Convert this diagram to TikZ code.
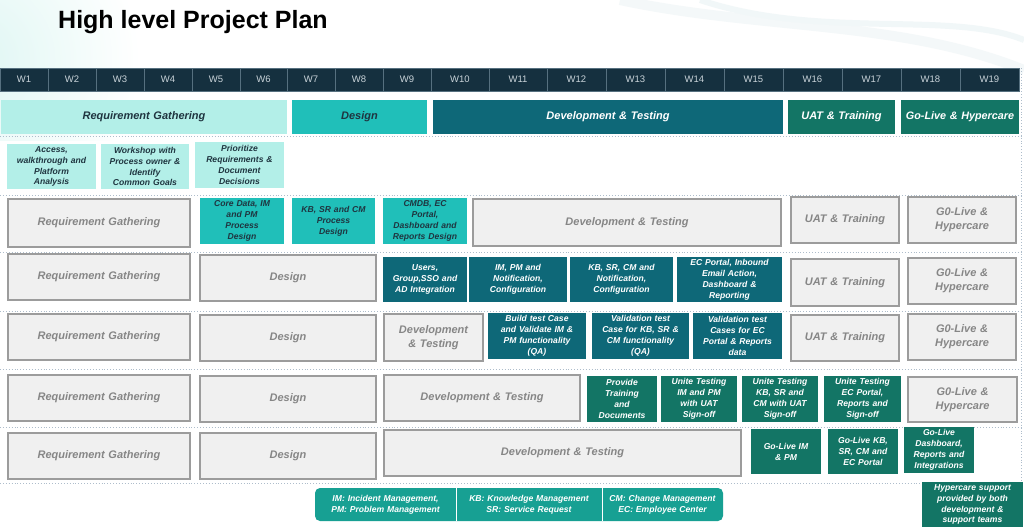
\documentclass[tikz,border=0pt]{standalone}
\usepackage{fontspec}
\setmainfont{Liberation Sans}
\definecolor{hdr}{HTML}{15303F}
\definecolor{hdrline}{HTML}{56707F}
\definecolor{hdrtxt}{HTML}{C9D3D9}
\definecolor{lightc}{HTML}{B3EFE8}
\definecolor{designc}{HTML}{20BFB9}
\definecolor{devc}{HTML}{0E6878}
\definecolor{uatc}{HTML}{137565}
\definecolor{legc}{HTML}{17A093}
\definecolor{greyf}{HTML}{F0F0F0}
\definecolor{greyd}{HTML}{9C9C9C}
\definecolor{greyt}{HTML}{868686}
\definecolor{darkt}{HTML}{1F3540}
\definecolor{sepc}{HTML}{AEBDCB}
\newcommand{\fsm}{\fontsize{8.6}{10.9}\selectfont\bfseries\itshape}
\newcommand{\fgr}{\fontsize{11}{14}\selectfont\bfseries\itshape}
\newcommand{\bx}[7]{%
  \pgfmathsetmacro{\bw}{#5-#3}\pgfmathsetmacro{\bh}{#6-#4}%
  \pgfmathsetmacro{\tw}{#5-#3-4}%
  \node[#2, minimum width=\bw pt, minimum height=\bh pt, text width=\tw pt] (#1) at ({(#3+#5)/2},{(#4+#6)/2}) {#7};}
\tikzset{
  base/.style={rectangle, inner sep=2pt, align=center},
  wk/.style={base, fill=hdr, draw=hdrline, line width=0.8pt, text=hdrtxt, font=\fontsize{9.5}{11}\selectfont},
  phl/.style={base, fill=lightc, text=darkt, font=\fgr},
  phd/.style={base, fill=designc, text=darkt, font=\fgr},
  phv/.style={base, fill=devc, text=white, font=\fgr},
  phu/.style={base, fill=uatc, text=white, font=\fgr},
  lbox/.style={base, fill=lightc, text=darkt, font=\fsm},
  dbox/.style={base, fill=designc, text=darkt, font=\fsm},
  vbox/.style={base, fill=devc, text=white, font=\fsm},
  ubox/.style={base, fill=uatc, text=white, font=\fsm},
  gbox/.style={base, fill=greyf, draw=greyd, line width=1.3pt, text=greyt, font=\fgr},
  legtxt/.style={base, text=white, font=\fsm},
  sepline/.style={draw=sepc, line width=0.9pt, dotted},
}
\begin{document}
\begin{tikzpicture}[x=1pt,y=-1pt]
\useasboundingbox (0,0) rectangle (1024,530);
\fill[white] (0,0) rectangle (1024,530);
% background glow
\begin{scope}
\clip (0,0) rectangle (1024,140);
\shade[inner color={rgb,255:red,222;green,246;blue,243}, outer color=white] (-30,60) circle (170pt);
\draw[line width=10pt, color={rgb,255:red,244;green,248;blue,249}] (620,0) .. controls (760,30) and (900,20) .. (1024,70);
\draw[line width=6pt, color={rgb,255:red,241;green,247;blue,248}] (700,0) .. controls (820,40) and (950,10) .. (1024,40);
\end{scope}
% title
\node[anchor=base west, inner sep=0pt, font=\fontsize{25}{28}\selectfont\bfseries] (title) at (58,28) {High level Project Plan};
% week header
\foreach \i/\a/\b in {1/0/48,2/48/96,3/96/144,4/144/192,5/192/240,6/240/287,7/287/335,8/335/383,9/383/431,10/431/489,11/489/547,12/547/606,13/606/665,14/665/724,15/724/783,16/783/842,17/842/901,18/901/960,19/960/1019}{
  \bx{w\i}{wk}{\a}{68}{\b}{91}{W\i}
}
% separators
\foreach \yy in {136,195,252,311,369,427,483}{
  \draw[sepline] (0,\yy) -- (1021,\yy);
}
\draw[sepline] (1021,68) -- (1021,483);
% phase bar
\bx{pReq}{phl}{1}{100}{287}{134}{Requirement Gathering}
\bx{pDes}{phd}{292}{100}{427}{134}{Design}
\bx{pDev}{phv}{433}{100}{783}{134}{Development \& Testing}
\bx{pUat}{phu}{788}{100}{895}{134}{UAT \& Training}
\bx{pGo}{phu}{901}{100}{1019}{134}{\fontsize{10.8}{13}\selectfont Go-Live \& Hypercare}
% row 1
\bx{a1}{lbox}{7}{144}{96}{189}{Access,\\walkthrough and\\Platform\\Analysis}
\bx{a2}{lbox}{101}{144}{189}{189}{Workshop with\\Process owner \&\\Identify\\Common Goals}
\bx{a3}{lbox}{195}{142}{284}{188}{Prioritize\\Requirements \&\\Document\\Decisions}
% row 2
\bx{b1}{gbox}{8}{199}{190}{247}{Requirement Gathering}
\bx{b2}{dbox}{200}{198}{284}{244}{Core Data, IM\\and PM\\Process\\Design}
\bx{b3}{dbox}{292}{198}{375}{244}{KB, SR and CM\\Process\\Design}
\bx{b4}{dbox}{383}{198}{467}{244}{CMDB, EC\\Portal,\\Dashboard and\\Reports Design}
\bx{b5}{gbox}{473}{199}{781}{246}{Development \& Testing}
\bx{b6}{gbox}{791}{197}{899}{243}{UAT \& Training}
\bx{b7}{gbox}{908}{197}{1016}{243}{G0-Live \&\\Hypercare}
% row 3
\bx{c1}{gbox}{8}{254}{190}{300}{Requirement Gathering}
\bx{c2}{gbox}{200}{255}{376}{301}{Design}
\bx{c3}{vbox}{383}{257}{467}{302}{Users,\\Group,SSO and\\AD Integration}
\bx{c4}{vbox}{469}{257}{567}{302}{IM, PM and\\Notification,\\Configuration}
\bx{c5}{vbox}{570}{257}{673}{302}{KB, SR, CM and\\Notification,\\Configuration}
\bx{c6}{vbox}{677}{257}{782}{302}{EC Portal, Inbound\\Email Action,\\Dashboard \&\\Reporting}
\bx{c7}{gbox}{791}{259}{899}{306}{UAT \& Training}
\bx{c8}{gbox}{908}{258}{1016}{304}{G0-Live \&\\Hypercare}
% row 4
\bx{d1}{gbox}{8}{314}{190}{360}{Requirement Gathering}
\bx{d2}{gbox}{200}{315}{376}{361}{Design}
\bx{d3}{gbox}{384}{314}{483}{361}{Development\\\& Testing}
\bx{d4}{vbox}{488}{313}{586}{359}{Build test Case\\and Validate IM \&\\PM functionality\\(QA)}
\bx{d5}{vbox}{592}{313}{689}{359}{Validation test\\Case for KB, SR \&\\CM functionality\\(QA)}
\bx{d6}{vbox}{693}{313}{782}{359}{Validation test\\Cases for EC\\Portal \& Reports\\data}
\bx{d7}{gbox}{791}{315}{899}{361}{UAT \& Training}
\bx{d8}{gbox}{908}{314}{1016}{360}{G0-Live \&\\Hypercare}
% row 5
\bx{e1}{gbox}{8}{375}{190}{421}{Requirement Gathering}
\bx{e2}{gbox}{200}{376}{376}{422}{Design}
\bx{e3}{gbox}{384}{375}{580}{421}{Development \& Testing}
\bx{e4}{ubox}{587}{376}{657}{422}{Provide\\Training\\and\\Documents}
\bx{e5}{ubox}{661}{376}{737}{422}{Unite Testing\\IM and PM\\with UAT\\Sign-off}
\bx{e6}{ubox}{742}{376}{818}{422}{Unite Testing\\KB, SR and\\CM with UAT\\Sign-off}
\bx{e7}{ubox}{824}{376}{901}{422}{Unite Testing\\EC Portal,\\Reports and\\Sign-off}
\bx{e8}{gbox}{908}{377}{1017}{422}{G0-Live \&\\Hypercare}
% row 6
\bx{f1}{gbox}{8}{433}{190}{479}{Requirement Gathering}
\bx{f2}{gbox}{200}{433}{376}{479}{Design}
\bx{f3}{gbox}{384}{430}{741}{476}{Development \& Testing}
\bx{f4}{ubox}{751}{429}{821}{474}{Go-Live IM\\\& PM}
\bx{f5}{ubox}{828}{429}{898}{474}{Go-Live KB,\\SR, CM and\\EC Portal}
\bx{f6}{ubox}{904}{427}{974}{473}{Go-Live\\Dashboard,\\Reports and\\Integrations}
% legend
\bx{leg}{base, fill=legc, rounded corners=5pt}{315}{488}{723}{521}{}
\bx{g1}{legtxt}{315}{488}{456}{521}{IM: Incident Management,\\PM: Problem Management}
\bx{g2}{legtxt}{456}{488}{602}{521}{KB: Knowledge Management\\SR: Service Request}
\bx{g3}{legtxt}{602}{488}{723}{521}{CM: Change Management\\EC: Employee Center}
\draw[white, line width=1pt] (g1.north east) -- (g1.south east);
\draw[white, line width=1pt] (g2.north east) -- (g2.south east);
% hypercare
\bx{hc}{ubox}{922}{482}{1023}{527}{Hypercare support\\provided by both\\development \&\\support teams}
\end{tikzpicture}
\end{document}
